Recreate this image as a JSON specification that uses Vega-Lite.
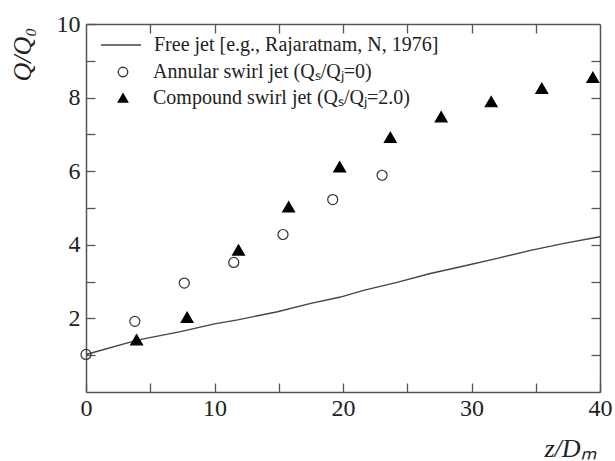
{
  "$schema": "https://vega.github.io/schema/vega-lite/v6.json",
  "autosize": "none",
  "width": 514,
  "height": 368,
  "padding": {"left": 86, "top": 24, "right": 15, "bottom": 69},
  "background": "white",
  "config": {
    "view": {"stroke": null},
    "font": "Liberation Serif",
    "axis": {
      "domainColor": "#555",
      "domainWidth": 1.5,
      "tickColor": "#555",
      "tickWidth": 1.3,
      "tickSize": -9,
      "grid": false,
      "labelFont": "Liberation Serif",
      "labelFontSize": 24,
      "labelColor": "#222",
      "titleFont": "Liberation Serif",
      "titleFontSize": 26,
      "titleFontStyle": "italic",
      "titleFontWeight": "normal",
      "titleColor": "#222"
    },
    "legend": {
      "orient": "none",
      "padding": 0,
      "labelFont": "Liberation Serif",
      "labelFontSize": 20,
      "labelColor": "#222",
      "labelLimit": 0,
      "clipHeight": 20,
      "rowPadding": 6,
      "symbolStrokeWidth": 1.3,
      "symbolOpacity": 1
    }
  },
  "datasets": {
    "jet": [
      {"series": "Free jet [e.g., Rajaratnam, N, 1976]", "kind": "free", "z": 0, "q": 1.02},
      {"series": "Free jet [e.g., Rajaratnam, N, 1976]", "kind": "free", "z": 4, "q": 1.41},
      {"series": "Free jet [e.g., Rajaratnam, N, 1976]", "kind": "free", "z": 7.35, "q": 1.64},
      {"series": "Free jet [e.g., Rajaratnam, N, 1976]", "kind": "free", "z": 10, "q": 1.85},
      {"series": "Free jet [e.g., Rajaratnam, N, 1976]", "kind": "free", "z": 11.8, "q": 1.96},
      {"series": "Free jet [e.g., Rajaratnam, N, 1976]", "kind": "free", "z": 14.9, "q": 2.18},
      {"series": "Free jet [e.g., Rajaratnam, N, 1976]", "kind": "free", "z": 17.5, "q": 2.41},
      {"series": "Free jet [e.g., Rajaratnam, N, 1976]", "kind": "free", "z": 19.8, "q": 2.58},
      {"series": "Free jet [e.g., Rajaratnam, N, 1976]", "kind": "free", "z": 21.6, "q": 2.76},
      {"series": "Free jet [e.g., Rajaratnam, N, 1976]", "kind": "free", "z": 24.2, "q": 2.98},
      {"series": "Free jet [e.g., Rajaratnam, N, 1976]", "kind": "free", "z": 26.8, "q": 3.22},
      {"series": "Free jet [e.g., Rajaratnam, N, 1976]", "kind": "free", "z": 29.5, "q": 3.43},
      {"series": "Free jet [e.g., Rajaratnam, N, 1976]", "kind": "free", "z": 32.0, "q": 3.63},
      {"series": "Free jet [e.g., Rajaratnam, N, 1976]", "kind": "free", "z": 34.6, "q": 3.85},
      {"series": "Free jet [e.g., Rajaratnam, N, 1976]", "kind": "free", "z": 37.2, "q": 4.04},
      {"series": "Free jet [e.g., Rajaratnam, N, 1976]", "kind": "free", "z": 40, "q": 4.22},
      {"series": "Annular swirl jet (Qₛ/Qⱼ=0)", "kind": "annular", "z": 0, "q": 1.02},
      {"series": "Annular swirl jet (Qₛ/Qⱼ=0)", "kind": "annular", "z": 3.8, "q": 1.92},
      {"series": "Annular swirl jet (Qₛ/Qⱼ=0)", "kind": "annular", "z": 7.65, "q": 2.96},
      {"series": "Annular swirl jet (Qₛ/Qⱼ=0)", "kind": "annular", "z": 11.5, "q": 3.52},
      {"series": "Annular swirl jet (Qₛ/Qⱼ=0)", "kind": "annular", "z": 15.33, "q": 4.28},
      {"series": "Annular swirl jet (Qₛ/Qⱼ=0)", "kind": "annular", "z": 19.2, "q": 5.23},
      {"series": "Annular swirl jet (Qₛ/Qⱼ=0)", "kind": "annular", "z": 23.04, "q": 5.89},
      {"series": "Compound swirl jet (Qₛ/Qⱼ=2.0)", "kind": "compound", "z": 3.94, "q": 1.42},
      {"series": "Compound swirl jet (Qₛ/Qⱼ=2.0)", "kind": "compound", "z": 7.87, "q": 2.03},
      {"series": "Compound swirl jet (Qₛ/Qⱼ=2.0)", "kind": "compound", "z": 11.87, "q": 3.86},
      {"series": "Compound swirl jet (Qₛ/Qⱼ=2.0)", "kind": "compound", "z": 15.77, "q": 5.03},
      {"series": "Compound swirl jet (Qₛ/Qⱼ=2.0)", "kind": "compound", "z": 19.74, "q": 6.12},
      {"series": "Compound swirl jet (Qₛ/Qⱼ=2.0)", "kind": "compound", "z": 23.68, "q": 6.92},
      {"series": "Compound swirl jet (Qₛ/Qⱼ=2.0)", "kind": "compound", "z": 27.64, "q": 7.48},
      {"series": "Compound swirl jet (Qₛ/Qⱼ=2.0)", "kind": "compound", "z": 31.53, "q": 7.89},
      {"series": "Compound swirl jet (Qₛ/Qⱼ=2.0)", "kind": "compound", "z": 35.47, "q": 8.25},
      {"series": "Compound swirl jet (Qₛ/Qⱼ=2.0)", "kind": "compound", "z": 39.44, "q": 8.55}
    ]
  },
  "data": {"name": "jet"},
  "layer": [
    {
      "transform": [{"filter": "datum.kind === 'free'"}],
      "mark": {"type": "line", "strokeWidth": 1.4},
      "encoding": {
        "x": {
          "field": "z", "type": "quantitative",
          "scale": {"domain": [0, 40], "nice": false, "zero": false},
          "axis": {
            "orient": "bottom",
            "values": [0, 5, 10, 15, 20, 25, 30, 35, 40],
            "labelExpr": "datum.value % 10 === 0 ? datum.label : ''",
            "labelPadding": 13,
            "labelFlush": false,
            "title": "z/Dₘ",
            "titleX": 484,
            "titleY": 56,
            "titleAlign": "center",
            "titleBaseline": "middle"
          }
        },
        "y": {
          "field": "q", "type": "quantitative",
          "scale": {"domain": [0, 10], "nice": false, "zero": false},
          "axis": {
            "orient": "left",
            "values": [1, 2, 3, 4, 5, 6, 7, 8, 9, 10],
            "labelExpr": "datum.value % 2 === 0 ? datum.label : ''",
            "labelPadding": 15,
            "labelFlush": false,
            "title": "Q/Q₀",
            "titleX": -64,
            "titleY": 30,
            "titleAngle": -90,
            "titleAlign": "center",
            "titleBaseline": "middle"
          }
        },
        "color": {
          "field": "series", "type": "nominal",
          "scale": {"domain": ["Free jet [e.g., Rajaratnam, N, 1976]"], "range": ["#444"]},
          "legend": {
            "title": null,
            "symbolType": "stroke",
            "symbolSize": 1600,
            "symbolStrokeWidth": 1.4,
            "legendX": 14,
            "legendY": 11,
            "labelOffset": 12
          }
        }
      }
    },
    {
      "transform": [{"filter": "datum.kind !== 'free'"}],
      "mark": {"type": "point", "strokeWidth": 1.2, "opacity": 1},
      "encoding": {
        "x": {
          "field": "z", "type": "quantitative",
          "axis": {"orient": "top", "values": [5, 10, 15, 20, 25, 30, 35], "labels": false, "title": null}
        },
        "y": {
          "field": "q", "type": "quantitative",
          "axis": {"orient": "right", "values": [1, 2, 3, 4, 5, 6, 7, 8, 9], "labels": false, "title": null}
        },
        "shape": {
          "field": "series", "type": "nominal",
          "scale": {
            "domain": ["Annular swirl jet (Qₛ/Qⱼ=0)", "Compound swirl jet (Qₛ/Qⱼ=2.0)"],
            "range": ["circle", "triangle-up"]
          },
          "legend": {
            "title": null,
            "symbolSize": 90,
            "legendX": 27,
            "legendY": 38,
            "labelOffset": 20
          }
        },
        "fill": {
          "field": "series", "type": "nominal",
          "scale": {
            "domain": ["Annular swirl jet (Qₛ/Qⱼ=0)", "Compound swirl jet (Qₛ/Qⱼ=2.0)"],
            "range": ["transparent", "#000"]
          },
          "legend": {
            "title": null,
            "symbolSize": 90,
            "legendX": 27,
            "legendY": 38,
            "labelOffset": 20
          }
        },
        "stroke": {
          "field": "series", "type": "nominal",
          "scale": {
            "domain": ["Annular swirl jet (Qₛ/Qⱼ=0)", "Compound swirl jet (Qₛ/Qⱼ=2.0)"],
            "range": ["#333", "#000"]
          },
          "legend": {
            "title": null,
            "symbolSize": 90,
            "legendX": 27,
            "legendY": 38,
            "labelOffset": 20
          }
        },
        "size": {"condition": {"test": "datum.kind === 'compound'", "value": 140}, "value": 100}
      }
    }
  ],
  "resolve": {"axis": {"x": "independent", "y": "independent"}}
}
